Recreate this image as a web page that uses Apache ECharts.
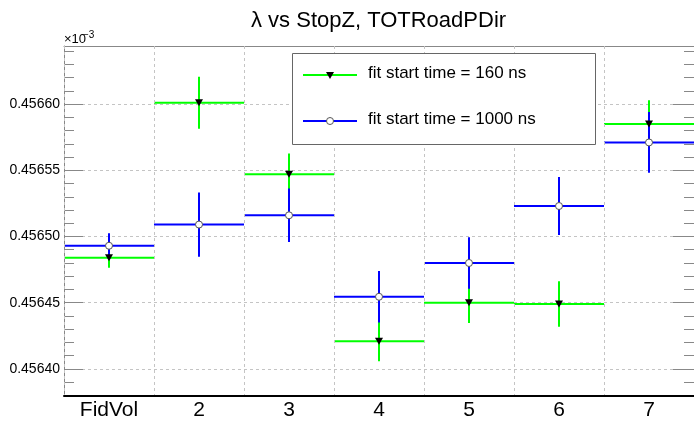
<!DOCTYPE html>
<html>
<head>
<meta charset="utf-8">
<script src="https://cdn.jsdelivr.net/npm/echarts@6/dist/echarts.min.js"></script>
<style>
  html, body { margin: 0; padding: 0; background: #fff; }
  #chart { width: 694px; height: 423px; }
</style>
</head>
<body>
<div id="chart"></div>
<script>
const categories = ['FidVol', '2', '3', '4', '5', '6', '7'];
// fit start time = 160 ns
const val160 = [0.456484, 0.456601, 0.456547, 0.456421, 0.456450, 0.456449, 0.456585];
const err160 = [0.0000075, 0.0000196, 0.0000156, 0.0000151, 0.0000153, 0.0000172, 0.0000178];
// fit start time = 1000 ns
const val1000 = [0.456493, 0.456509, 0.456516, 0.4564545, 0.456480, 0.456523, 0.456571];
const err1000 = [0.0000094, 0.0000243, 0.0000202, 0.0000194, 0.0000194, 0.0000219, 0.0000229];
const yRange = [0.4563796, 0.4566438];
const yTickStep = 0.00005;

const FONT = "'Liberation Sans', Arial, sans-serif";
const GREEN = '#00ff00';
const BLUE = '#0000ff';

const toData = (vals, errs) => vals.map((v, i) => [i, v, errs[i]]);

function errRenderer(color) {
  return function (params, api) {
    const x = api.value(0), y = api.value(1), e = api.value(2);
    const c = api.coord([x, y]);
    const bw = api.size([1, 0])[0];
    const top = api.coord([x, y + e]);
    const bot = api.coord([x, y - e]);
    const style = { stroke: color, lineWidth: 2 };
    return {
      type: 'group',
      children: [
        { type: 'line', shape: { x1: c[0] - bw / 2, y1: c[1], x2: c[0] + bw / 2, y2: c[1] }, style },
        { type: 'line', shape: { x1: top[0], y1: top[1], x2: bot[0], y2: bot[1] }, style }
      ]
    };
  };
}

const chart = echarts.init(document.getElementById('chart'), null, { renderer: 'canvas' });

const option = {
  backgroundColor: '#fff',
  animation: false,
  textStyle: { fontFamily: FONT },
  title: {
    text: 'λ vs StopZ, TOTRoadPDir',
    left: 246,
    top: 5,
    textStyle: { fontFamily: FONT, fontSize: 22, fontWeight: 'normal', color: '#000' }
  },
  grid: { left: 64, right: -10, top: 46, bottom: 27, containLabel: false },
  xAxis: [
    {
      type: 'category',
      data: categories,
      boundaryGap: true,
      z: 10,
      axisLine: { lineStyle: { color: '#000', width: 2 } },
      axisTick: { inside: true, length: 6, interval: 0, lineStyle: { color: '#888' } },
      axisLabel: { interval: 0, fontSize: 21, color: '#000', margin: 4, fontFamily: FONT },
      splitLine: { show: true, interval: 0, lineStyle: { color: '#c4c4c4', type: [3, 3], width: 1 } }
    },
    {
      type: 'category',
      data: categories,
      position: 'top',
      boundaryGap: true,
      axisLine: { lineStyle: { color: '#888', width: 1 } },
      axisTick: { inside: true, length: 6, interval: 0, lineStyle: { color: '#888' } },
      axisLabel: { show: false },
      splitLine: { show: false }
    }
  ],
  yAxis: [
    {
      type: 'value',
      min: yRange[0],
      max: yRange[1],
      minInterval: yTickStep,
      maxInterval: yTickStep,
      splitNumber: 5,
      axisLine: { show: true, lineStyle: { color: '#888', width: 1 } },
      axisTick: { show: true, inside: true, length: 19, lineStyle: { color: '#888' } },
      minorTick: { show: true, splitNumber: 5, length: 10, lineStyle: { color: '#888' } },
      axisLabel: {
        fontSize: 14, color: '#000', margin: 4, fontFamily: FONT,
        showMinLabel: false, showMaxLabel: false,
        formatter: v => v.toFixed(5)
      },
      splitLine: { show: true, lineStyle: { color: '#c4c4c4', type: [3, 3], width: 1 } }
    },
    {
      type: 'value',
      position: 'right',
      min: yRange[0],
      max: yRange[1],
      minInterval: yTickStep,
      maxInterval: yTickStep,
      splitNumber: 5,
      axisLine: { show: true, lineStyle: { color: '#888', width: 1 } },
      axisTick: { show: true, inside: true, length: 21, lineStyle: { color: '#888' } },
      minorTick: { show: true, splitNumber: 5, length: 10, lineStyle: { color: '#888' } },
      axisLabel: { show: false },
      splitLine: { show: false }
    }
  ],
  series: [
    {
      name: 'fit start time = 160 ns',
      type: 'custom',
      data: toData(val160, err160),
      renderItem: errRenderer(GREEN),
      encode: { x: 0, y: 1 },
      z: 2
    },
    {
      name: 'fit start time = 1000 ns',
      type: 'custom',
      data: toData(val1000, err1000),
      renderItem: errRenderer(BLUE),
      encode: { x: 0, y: 1 },
      z: 3
    },
    {
      type: 'scatter',
      data: val160.map((v, i) => [i, v]),
      symbol: 'triangle',
      symbolRotate: 180,
      symbolSize: [8, 7],
      itemStyle: { color: '#000', opacity: 1 },
      z: 4
    },
    {
      type: 'scatter',
      data: val1000.map((v, i) => [i, v]),
      symbol: 'circle',
      symbolSize: 7,
      itemStyle: { color: '#fff', borderColor: '#555', borderWidth: 1, opacity: 1 },
      z: 5
    }
  ],
  graphic: [
    // ×10^-3 exponent label
    { type: 'text', left: 64, top: 33, style: { text: '×10', fontSize: 13, fontFamily: FONT, fill: '#000' } },
    { type: 'text', left: 83, top: 30, style: { text: '−3', fontSize: 10, fontFamily: FONT, fill: '#000' } },
    // legend box
    {
      type: 'rect', z: 100,
      shape: { x: 292.5, y: 53.5, width: 303, height: 91 },
      style: { fill: '#fff', stroke: '#666', lineWidth: 1 }
    },
    { type: 'line', z: 101, shape: { x1: 303, y1: 75, x2: 357, y2: 75 }, style: { stroke: GREEN, lineWidth: 2 } },
    { type: 'polygon', z: 102, shape: { points: [[326, 72], [334, 72], [330, 79]] }, style: { fill: '#000' } },
    { type: 'text', z: 101, left: 368, top: 65, style: { text: 'fit start time = 160 ns', fontSize: 17, fontFamily: FONT, fill: '#000' } },
    { type: 'line', z: 101, shape: { x1: 303, y1: 121, x2: 357, y2: 121 }, style: { stroke: BLUE, lineWidth: 2 } },
    { type: 'circle', z: 102, shape: { cx: 330, cy: 121, r: 3.5 }, style: { fill: '#fff', stroke: '#555', lineWidth: 1 } },
    { type: 'text', z: 101, left: 368, top: 111, style: { text: 'fit start time = 1000 ns', fontSize: 17, fontFamily: FONT, fill: '#000' } }
  ]
};

chart.setOption(option);
</script>
</body>
</html>
